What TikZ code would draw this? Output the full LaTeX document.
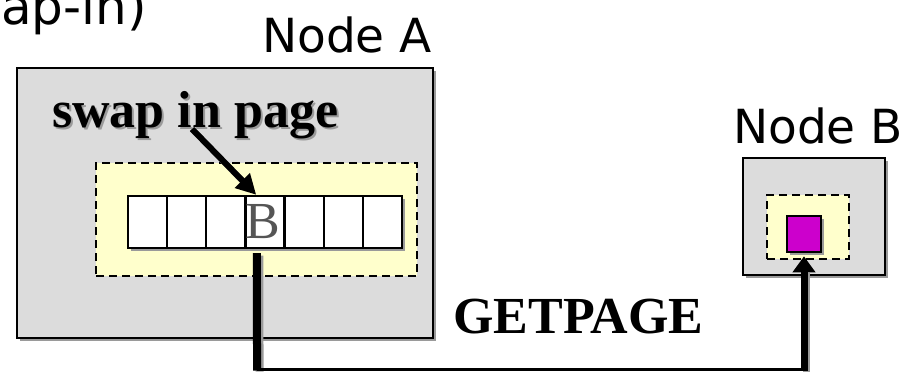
\documentclass[tikz,border=0pt]{standalone}
\usepackage{fontspec}
\setmainfont{Liberation Serif}
\newfontfamily\labelfont{DejaVu Sans}
\usetikzlibrary{arrows.meta,shadows,calc}

\definecolor{nodegray}{HTML}{DCDCDC}
\definecolor{bufyellow}{HTML}{FFFFCC}
\definecolor{pagemag}{HTML}{CC00CC}
\definecolor{shadowgray}{HTML}{9A9A9A}
\definecolor{lettergray}{HTML}{555555}

\tikzset{
  sh/.style={drop shadow={shadow xshift=3pt, shadow yshift=-3pt, fill=shadowgray, opacity=1}},
  hostbox/.style={draw=black, line width=2.6pt, fill=nodegray, inner sep=0pt, sh},
  bufbox/.style={draw=black, line width=2.4pt, fill=bufyellow, inner sep=0pt,
                 dash pattern=on 8pt off 5pt},
  cellbox/.style={draw=black, line width=2.4pt, fill=white, inner sep=0pt,
                  minimum width=39.14pt, minimum height=52pt, sh},
  pagebox/.style={draw=black, line width=2.6pt, fill=pagemag, inner sep=0pt, sh},
  hostlabel/.style={font=\labelfont\fontsize{47}{50}\selectfont, inner sep=0pt},
  boldlabel/.style={font=\bfseries\fontsize{52}{56}\selectfont, inner sep=0pt},
  lineshadow/.style={draw=shadowgray, transform canvas={shift={(2.5pt,-2.5pt)}}},
}

\begin{document}
\begin{tikzpicture}[x=1pt,y=-1pt]
  \useasboundingbox (0,0) rectangle (903,373);

  % caption at the upper left, running off the edge
  \node[font=\labelfont\fontsize{50}{54}\selectfont, inner sep=0pt,
        anchor=base east] (cap) at (147,24) {(swap-in)};

  % host A with its buffer of pages
  \node[hostlabel, anchor=base west] (labA) at (262,52) {Node A};
  \node[hostbox, minimum width=416pt, minimum height=270pt] (A) at (225,203) {};
  \node[bufbox, minimum width=321pt, minimum height=113pt] (bufA) at (256.5,219.5) {};
  \foreach \i in {1,...,7}
    \node[cellbox] (c\i) at ({128+39.14*(\i-0.5)},222) {};
  \node[anchor=base west, inner sep=0pt, text=lettergray,
        font=\fontsize{52}{56}\selectfont] (pB) at (245,238) {B};

  % swap-in annotation
  \node[boldlabel, text=shadowgray, anchor=base west] at (54,129) {swap in page};
  \node[boldlabel, anchor=base west] (swap) at (52,127) {swap in page};
  \coordinate (s0) at (192,129);
  \coordinate (s1) at ($(c4.north west)+(12,0)$);
  \draw[lineshadow, line width=6pt] (s0) -- ($(s1)+(-10,-10)$);
  \draw[line width=6pt, -{Triangle[length=20pt,width=20pt]}] (s0) -- (s1);

  % host B holding the page
  \node[hostlabel, anchor=base west] (labB) at (733,143) {Node B};
  \node[hostbox, minimum width=142pt, minimum height=117pt] (B) at (814,216.5) {};
  \node[bufbox, minimum width=82pt, minimum height=64pt] (bufB) at (808,227) {};
  \node[pagebox, minimum width=34pt, minimum height=36pt] (pg) at (804,234) {};

  % GETPAGE request path
  \coordinate (g0) at ($(c4.south)+(-8,4)$);
  \coordinate (g1) at (257,369);
  \coordinate (g2) at (804,369);
  \coordinate (g3) at ($(pg.south)+(0,3)$);
  \draw[lineshadow, line width=8pt] (g0) -- (g1);
  \draw[lineshadow, line width=7pt] (g2) -- ($(g3)+(0,14)$);
  \draw[line width=8pt] (g0) -- ($(g1)+(0,1.5)$);
  \draw[line width=3pt] (g1) -- (g2);
  \draw[line width=7pt, -{Triangle[length=16pt,width=22pt]}] ($(g2)+(0,1.5)$) -- (g3);
  \node[boldlabel, anchor=base west] (req) at (453,333) {GETPAGE};
\end{tikzpicture}
\end{document}
